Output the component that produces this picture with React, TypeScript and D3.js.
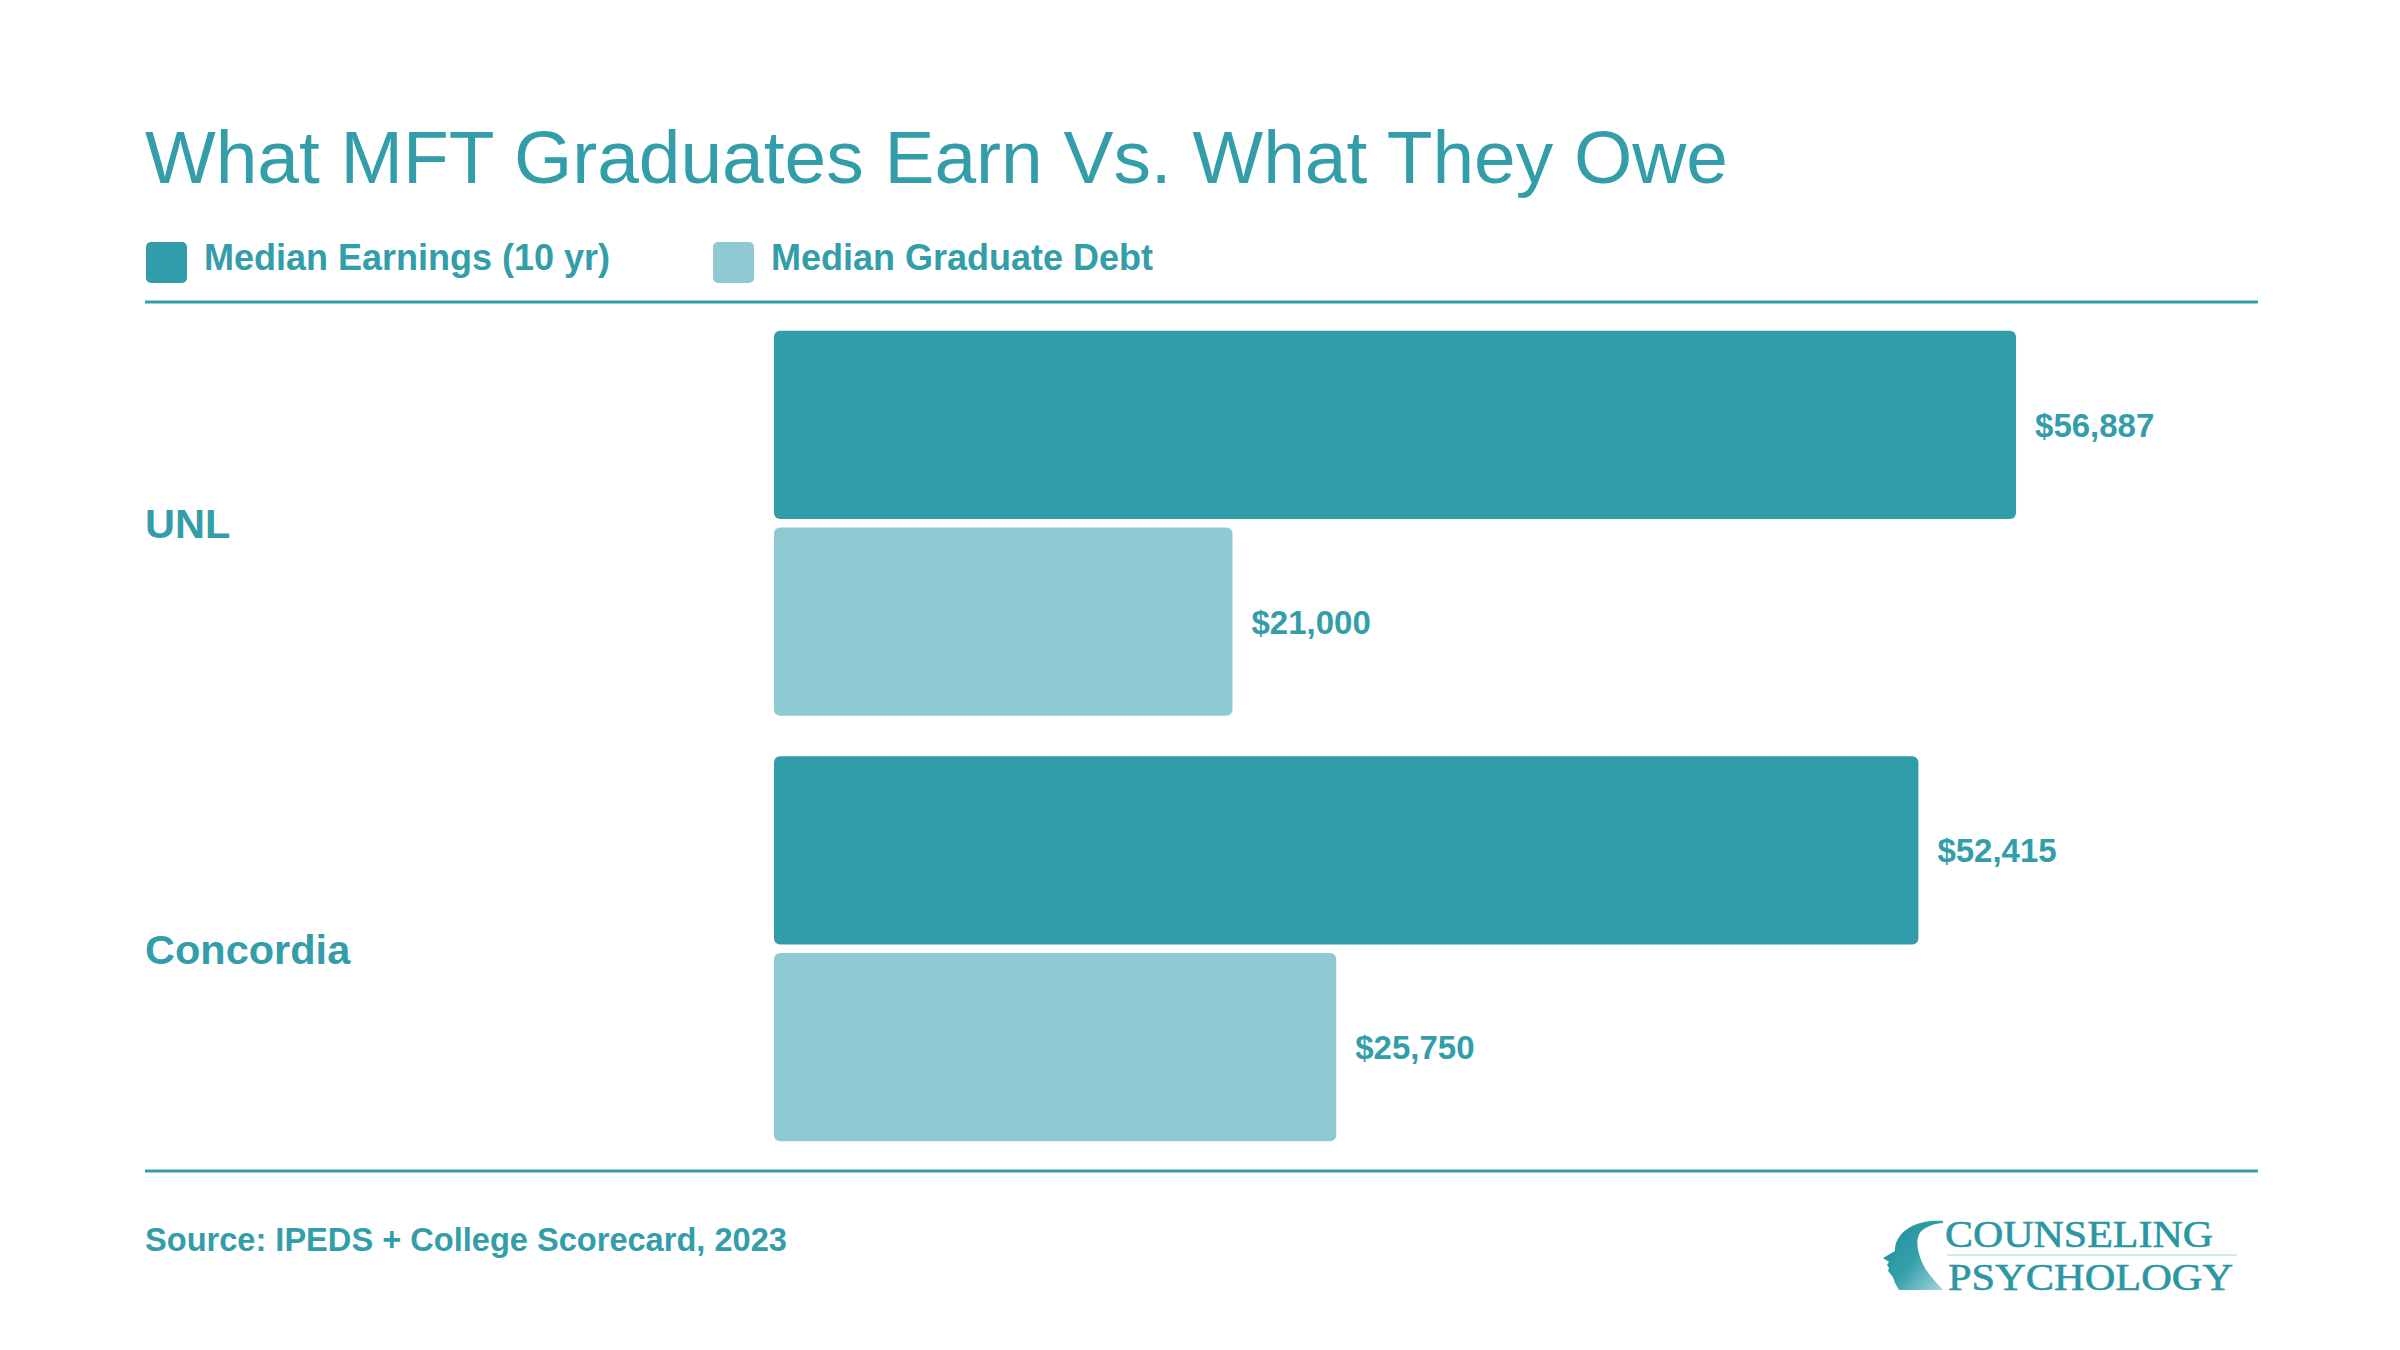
import React from "react";
import * as d3 from "d3";

// chart values
const schools = ["UNL", "Concordia"];
const seriesNames = ["Median Earnings (10 yr)", "Median Graduate Debt"];
const earnings = [56887, 52415];
const debt = [21000, 25750];
const titleText = "What MFT Graduates Earn Vs. What They Owe";
const sourceText = "Source: IPEDS + College Scorecard, 2023";

const width = 2400;
const height = 1350;
const teal = "#339EAA";
const colors = ["#329DAA", "#8FC9D1"];
const sans = "'Liberation Sans', Arial, Helvetica, sans-serif";
const serif = "'Liberation Serif', 'DejaVu Serif', serif";

export default function App() {
  const left = 145;
  const right = 2258;
  const topRule = 302;
  const bottomRule = 1171;

  const x = d3.scaleLinear().domain([0, 60000]).range([774, 2084]);
  const yGroup = d3
    .scaleBand()
    .domain(schools)
    .range([310.5, 1161.5])
    .paddingInner(0.0952)
    .paddingOuter(0.0476);
  const ySub = d3
    .scaleBand()
    .domain(seriesNames)
    .range([0, yGroup.bandwidth()])
    .paddingInner(0.042);
  const fmt = d3.format("$,");

  const rows = schools.map((s, i) => ({
    school: s,
    values: [earnings[i], debt[i]],
  }));

  // legend positions
  const legendX = [146, 713];

  return (
    <svg
      width={width}
      height={height}
      viewBox={`0 0 ${width} ${height}`}
      style={{ position: "absolute", left: 0, top: 0, background: "#fff" }}
    >
      <defs>
        <linearGradient id="headGrad" x1="0" y1="0" x2="1" y2="1">
          <stop offset="0%" stopColor="#1C8C99" />
          <stop offset="55%" stopColor="#35A0AC" />
          <stop offset="100%" stopColor="#A6D5DA" />
        </linearGradient>
      </defs>
      <rect width={width} height={height} fill="#fff" />

      {/* title */}
      <text
        x={left}
        y={183}
        fill={teal}
        fontFamily={sans}
        fontSize={75}
        textLength={1583}
        lengthAdjust="spacingAndGlyphs"
      >
        {titleText}
      </text>

      {/* legend */}
      {seriesNames.map((name, i) => (
        <g key={name}>
          <rect x={legendX[i]} y={242} width={41} height={41} rx={5} fill={colors[i]} />
          <text
            x={legendX[i] + 58}
            y={270}
            fill={teal}
            fontFamily={sans}
            fontWeight="bold"
            fontSize={36}
          >
            {name}
          </text>
        </g>
      ))}

      <line x1={left} x2={right} y1={topRule} y2={topRule} stroke={teal} strokeWidth={3} />
      <line x1={left} x2={right} y1={bottomRule} y2={bottomRule} stroke={teal} strokeWidth={3} />

      {/* bars */}
      {rows.map((r) => {
        const g0 = yGroup(r.school);
        const gc = g0 + yGroup.bandwidth() / 2;
        return (
          <g key={r.school}>
            <text
              x={left}
              y={gc + 15}
              fill={teal}
              fontFamily={sans}
              fontWeight="bold"
              fontSize={41.5}
            >
              {r.school}
            </text>
            {r.values.map((v, j) => {
              const by = g0 + ySub(seriesNames[j]);
              const bh = ySub.bandwidth();
              return (
                <g key={j}>
                  <rect
                    x={x(0)}
                    y={by}
                    width={x(v) - x(0)}
                    height={bh}
                    rx={6}
                    fill={colors[j]}
                  />
                  <text
                    x={x(v) + 19}
                    y={by + bh / 2 + 12}
                    fill={teal}
                    fontFamily={sans}
                    fontWeight="bold"
                    fontSize={33}
                  >
                    {fmt(v)}
                  </text>
                </g>
              );
            })}
          </g>
        );
      })}

      {/* source */}
      <text x={left} y={1251} fill={teal} fontFamily={sans} fontWeight="bold" fontSize={32.6}>
        {sourceText}
      </text>

      {/* logo */}
      <g>
        <path
          d="M1943,1221 C1924,1219 1905,1226 1898,1239 C1895,1244 1895,1248 1895,1251 L1883,1258 L1889,1262 L1887,1265 L1889,1268 L1888,1271 C1891,1274 1894,1278 1895,1283 L1899,1290 L1943,1290 C1934,1280 1924,1270 1920,1257 C1916,1245 1916,1234 1924,1229 C1930,1225 1937,1223 1943,1223 Z"
          fill="url(#headGrad)"
        />
        <text
          x={1945}
          y={1247}
          fill="#2A97A3"
          fontFamily={serif}
          fontSize={37}
          stroke="#2A97A3"
          strokeWidth={0.6}
          textLength={268}
          lengthAdjust="spacingAndGlyphs"
        >
          COUNSELING
        </text>
        <line x1={1947} x2={2237} y1={1255} y2={1255} stroke="#BFE0E4" strokeWidth={1.5} />
        <text
          x={1948}
          y={1290}
          fill="#2A97A3"
          fontFamily={serif}
          fontSize={37}
          stroke="#2A97A3"
          strokeWidth={0.6}
          textLength={285}
          lengthAdjust="spacingAndGlyphs"
        >
          PSYCHOLOGY
        </text>
      </g>
    </svg>
  );
}
